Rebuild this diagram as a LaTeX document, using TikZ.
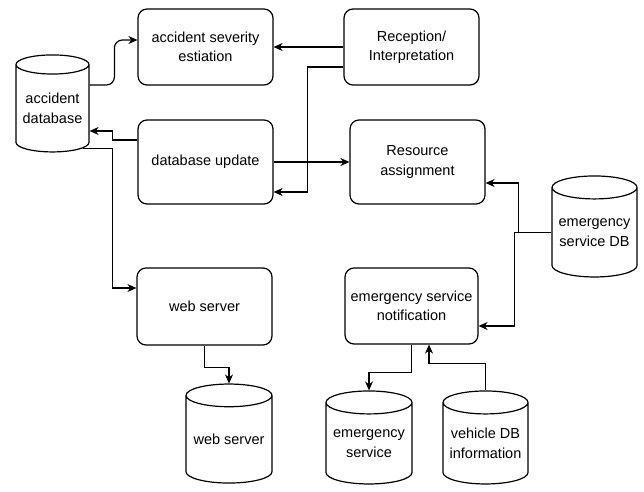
\documentclass[tikz,border=0pt]{standalone}
\usepackage{fontspec}
\setmainfont{Liberation Sans}
\usepackage{tikz}
\usetikzlibrary{arrows.meta,positioning,calc,shapes.geometric}

\begin{document}
\begin{tikzpicture}[x=1pt, y=-1pt, font=\fontsize{14.5}{19.5}\selectfont,
  box/.style={draw, line width=1.2pt, rounded corners=9pt, align=center, inner sep=0pt},
  dbcyl/.style={draw, line width=1.2pt, cylinder, shape border rotate=90, aspect=0.32,
    align=center, inner sep=0pt},
  flow/.style={line width=1.2pt, -{Stealth[length=9pt,width=8pt]}}]
  \useasboundingbox (0,0) rectangle (644,491);
  % process boxes
  \node[box, minimum width=135pt, minimum height=76pt] (sev) at (205.5,47) {accident severity\\estiation};
  \node[box, minimum width=135pt, minimum height=76pt] (recep) at (411.5,47) {Reception/\\Interpretation};
  \node[box, minimum width=135pt, minimum height=84pt] (dbup) at (205.5,162) {database update};
  \node[box, minimum width=135pt, minimum height=84pt] (resas) at (417.5,162) {Resource\\assignment};
  \node[box, minimum width=135pt, minimum height=77pt] (websrv) at (204.5,306.5) {web server};
  \node[box, minimum width=133pt, minimum height=76pt] (esnot) at (411.5,306) {emergency service\\notification};
  % databases
  \node[dbcyl, minimum width=73pt, minimum height=97pt] (accdb) at (52.5,108.5) {accident\\database};
  \node[dbcyl, minimum width=86pt, minimum height=99pt] (webdb) at (229,439.5) {web server};
  \node[dbcyl, minimum width=85pt, minimum height=101pt] (esdb) at (594.5,232.5) {emergency\\service DB};
  \node[dbcyl, minimum width=86pt, minimum height=93pt] (esv) at (369,443.5) {emergency\\service};
  \node[dbcyl, minimum width=85pt, minimum height=93pt] (vehdb) at (485.5,443.5) {vehicle DB\\information};
  % connectors
  \draw[flow, rounded corners=8pt] ([yshift=23.5pt]accdb.east) -| ([xshift=-23pt,yshift=7pt]sev.west) -- ([yshift=7pt]sev.west);
  \draw[flow] (recep.west) -- (sev.east);
  \draw[flow] ([yshift=-20pt]recep.west) -- ++(-36pt,0) |- ([yshift=-30pt]dbup.east);
  \draw[flow] ([yshift=22pt]dbup.west) -- ++(-25pt,0) |- ([yshift=-22.5pt]accdb.east);
  \draw[flow] (dbup.east) -- (resas.west);
  \draw[flow] ($(accdb.south)+(30pt,4pt)$) -- ++(30pt,0) |- ([yshift=18.5pt]websrv.west);
  \draw[flow] (websrv.south) -- ++(0,-22pt) -| (webdb.north);
  \draw[flow] (esdb.west) -- ++(-33pt,0) |- ([yshift=-21pt]resas.east);
  \draw[flow] (esdb.west) -- ++(-37pt,0) |- ([yshift=-20pt]esnot.east);
  \draw[flow] (esnot.south) -- ++(0,-28pt) -| (esv.north);
  \draw[flow] (vehdb.north) -- ++(0,27pt) -| ([xshift=17.5pt]esnot.south);
\end{tikzpicture}
\end{document}
